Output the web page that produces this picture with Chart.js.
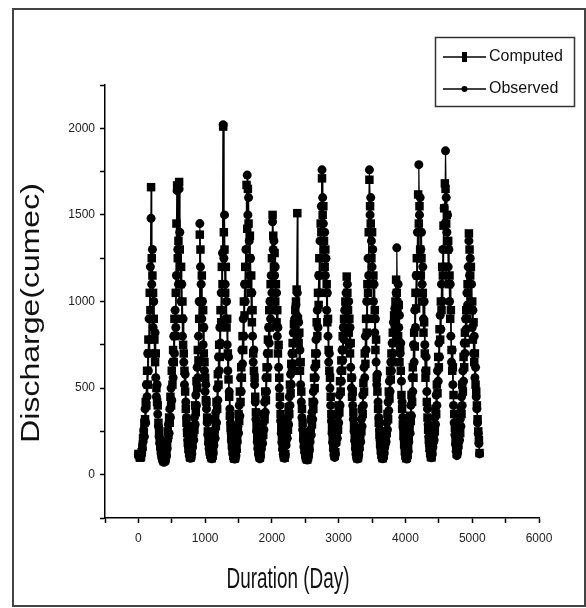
<!DOCTYPE html>
<html>
<head>
<meta charset="utf-8">
<script src="https://cdn.jsdelivr.net/npm/chart.js@4.4.0/dist/chart.umd.min.js"></script>
<style>
  html, body { margin: 0; padding: 0; background: #fff; }
  #wrap { position: relative; width: 586px; height: 608px; }
</style>
</head>
<body>
<div id="wrap"><canvas id="chart"></canvas></div>
<script>
const dayStep = 10;

const computed = [
  120,112,100,98,105,130,160,210,230,300, 320,420,400,600,520,780,700,1050,950,1660,
  1250,1150,1050,900,780,650,700,500,420,400, 300,250,200,165,135,110,95,85,78,80,
  85,95,120,170,250,230,330,300,450,400, 600,520,720,650,900,800,1050,1450,1670,1250,
  1350,1690,1300,1100,1200,900,1000,750,700,600, 480,380,300,240,185,150,125,105,98,108, 135,
  170,210,280,260,400,360,540,500,720,660, 900,1386,1300,1000,1150,850,950,700,650,560,
  430,420,330,250,195,160,132,115,102,95, 110,135,
  180,230,320,280,420,380,580,520,750,680, 950,880,1200,1100,2010,1400,1300,1050,1200,850,
  900,700,550,450,340,270,210,170,135,110, 98,92,100,120,150,
  200,260,350,310,480,420,620,560,800,720, 1000,920,1200,1100,1673,1420,1650,1450,1250,1380,
  1050,1150,880,950,700,600,560,450,360,280, 210,165,130,108,98,118,
  160,190,250,230,350,320,480,430,620,560, 780,700,950,850,1100,1000,1250,1500,1380,1200,
  1280,1000,1100,880,950,700,750,560,450,350, 270,205,160,128,106,98,120,
  180,220,290,260,390,350,520,470,640,600, 760,700,870,820,950,1000,1069,1510,900,760,
  820,600,650,480,380,300,230,180,145,118, 100,90,88,100,120,150,
  200,240,320,290,420,380,560,500,700,640, 880,800,1050,980,1250,1150,1450,1400,1711,1500,
  1550,1350,1200,1300,1050,1100,880,900,720,600, 560,450,350,270,205,160,125,108,130,
  190,220,290,260,400,360,540,480,660,600, 800,720,900,850,1000,950,1144,1050,950,820,
  900,700,760,560,450,480,360,280,215,165, 130,105,95,100,125,
  160,200,270,250,380,350,530,480,700,640, 900,820,1100,1050,1400,1703,1550,1450,1250,1400,
  1100,1150,900,950,720,780,560,480,380,300, 230,180,140,115,100,95,108,135,
  170,190,250,240,350,320,480,440,600,550, 700,650,820,760,920,860,1000,1126,1050,950,
  800,980,650,720,600,460,380,290,225,175, 135,110,95,98,115,150,
  200,250,340,310,460,420,620,560,820,740, 1050,960,1250,1150,1618,1450,1550,1300,1150,1250,
  1000,1050,820,880,700,560,600,420,330,260, 200,155,125,105,100,130,
  170,200,270,250,380,350,520,470,680,620, 840,780,1000,950,1200,1150,1438,1538,1682,1650,
  1450,1500,1300,1350,1100,1150,900,950,720,600, 620,460,350,270,200,150,120,140,
  170,200,260,240,380,350,520,480,680,620, 820,760,950,900,1100,1050,1393,1300,1150,1200,
  950,1000,780,880,650,700,520,480,400,320, 250,200,125
];

const observed = [
  115,110,105,100,110,125,150,190,260,220, 380,300,520,450,700,600,900,780,1200,1480,
  1100,1300,850,1000,700,820,560,450,520,350, 280,220,180,150,125,105,90,80,72,75,
  80,90,110,150,200,290,240,380,330,500, 430,650,560,800,700,950,850,1150,1640,1300,
  1100,1650,1400,1200,1000,1100,800,900,650,520, 580,420,330,260,200,160,130,110,95,100, 120,
  160,230,200,330,290,460,400,620,560,800, 1000,1450,1200,1100,900,1000,750,850,600,480,
  520,380,300,230,180,150,125,110,100,92, 100,125,
  170,250,210,360,300,500,430,680,600,850, 760,1050,950,1280,2020,1250,1500,1100,900,1000,
  750,600,680,480,380,300,240,190,150,120, 100,90,92,110,140,
  190,280,240,400,340,560,480,720,640,900, 800,1100,1000,1300,1200,1730,1500,1600,1350,1150,
  1250,950,1050,800,650,720,520,420,320,250, 190,150,120,100,92,110,
  150,210,180,300,260,420,360,560,480,700, 620,850,760,1000,900,1150,1050,1460,1300,1350,
  1150,1200,950,1050,800,850,620,500,400,310, 240,185,145,118,100,95,115,
  170,240,210,330,290,450,400,580,520,700, 640,820,760,900,850,980,920,1050,800,880,
  650,720,520,420,330,260,200,160,130,110, 95,88,85,95,115,145,
  190,260,230,360,320,480,420,620,560,780, 700,950,850,1150,1050,1350,1250,1550,1760,1600,
  1450,1300,1400,1150,1250,950,1050,800,650,700, 500,400,310,240,185,145,115,100,120,
  180,240,210,340,300,460,400,600,540,720, 660,850,780,950,900,1050,980,1100,900,1000,
  750,850,620,500,560,400,320,250,195,150, 120,100,90,95,115,
  150,220,190,320,280,460,400,620,560,800, 720,1000,900,1250,1150,1760,1500,1600,1350,1200,
  1300,1000,1100,820,900,650,520,580,420,330, 260,200,155,125,105,92,100,125,
  160,210,190,300,260,420,370,540,480,650, 600,760,700,880,820,960,900,1050,1310,1000,
  1100,850,920,700,760,540,420,330,260,200, 155,120,100,90,105,135,
  190,280,240,400,340,560,480,750,650,950, 850,1150,1050,1400,1250,1790,1500,1600,1300,1400,
  1100,1200,900,1000,750,600,680,480,380,290, 220,170,135,110,98,120,
  160,230,200,330,290,460,400,600,540,760, 680,920,840,1100,1000,1300,1200,1540,1450,1870,
  1600,1400,1500,1200,1300,1000,1100,800,650,720, 520,400,300,230,175,135,110,125,
  160,230,200,320,280,450,400,600,540,760, 700,900,840,1050,980,1200,1350,1150,1250,1000,
  1100,850,950,700,800,560,620,450,380,300, 240,180,120
];

const seriesNames = ["Computed", "Observed"];
const xTickLabels = [0, 1000, 2000, 3000, 4000, 5000, 6000];
const yTickLabels = [0, 500, 1000, 1500, 2000];
const xTitle = "Duration (Day)";
const yTitle = "Discharge(cumec)";

const FONT = '"Liberation Sans", Arial, sans-serif';

function toPoints(vals) {
  return vals.map((v, i) => ({ x: i * dayStep, y: v }));
}

// white page with the dark frame round it
const framePlugin = {
  id: "frame",
  beforeDraw(chart) {
    const ctx = chart.ctx;
    ctx.save();
    ctx.fillStyle = "#fff";
    ctx.fillRect(0, 0, chart.width, chart.height);
    ctx.strokeStyle = "#444";
    ctx.lineWidth = 2;
    ctx.strokeRect(13, 9, 572, 597);
    ctx.restore();
  }
};

// axis titles and the boxed legend
const labelsPlugin = {
  id: "labels",
  afterDraw(chart) {
    const ctx = chart.ctx;
    ctx.save();
    ctx.fillStyle = "#111";
    ctx.textAlign = "center";
    ctx.textBaseline = "middle";

    ctx.save();
    ctx.translate(288, 580);
    ctx.scale(0.63, 1);
    ctx.font = "30px " + FONT;
    ctx.fillText(xTitle, 0, 0);
    ctx.restore();

    ctx.save();
    ctx.translate(32, 313);
    ctx.rotate(-Math.PI / 2);
    ctx.scale(1, 0.8);
    ctx.font = "32px " + FONT;
    ctx.fillText(yTitle, 0, 0);
    ctx.restore();

    // legend
    ctx.strokeStyle = "#333";
    ctx.lineWidth = 1.5;
    ctx.strokeRect(435.5, 37.5, 139, 69);
    const rows = [57, 89];
    chart.data.datasets.forEach((ds, i) => {
      const y = rows[i];
      ctx.strokeStyle = "#000";
      ctx.lineWidth = 1.5;
      ctx.beginPath();
      ctx.moveTo(443, y);
      ctx.lineTo(486, y);
      ctx.stroke();
      ctx.fillStyle = "#000";
      if (ds.pointStyle === "rect") {
        ctx.fillRect(462, y - 5, 5, 10);
      } else {
        ctx.beginPath();
        ctx.arc(464.5, y, 3, 0, Math.PI * 2);
        ctx.fill();
      }
      ctx.fillStyle = "#111";
      ctx.textAlign = "left";
      ctx.font = "16px " + FONT;
      ctx.fillText(ds.label, 489, y);
    });
    ctx.restore();
  }
};

const ctx = document.getElementById("chart").getContext("2d");
new Chart(ctx, {
  type: "line",
  data: {
    datasets: [
      {
        label: seriesNames[0],
        data: toPoints(computed),
        borderColor: "#000",
        borderWidth: 1.2,
        backgroundColor: "#000",
        pointStyle: "rect",
        pointRadius: 6,
        pointBorderWidth: 0,
        tension: 0
      },
      {
        label: seriesNames[1],
        data: toPoints(observed),
        borderColor: "#000",
        borderWidth: 1.2,
        backgroundColor: "#000",
        pointStyle: "circle",
        pointRadius: 4.5,
        pointBorderWidth: 0,
        tension: 0
      }
    ]
  },
  options: {
    responsive: true,
    maintainAspectRatio: false,
    animation: false,
    layout: { padding: { top: 85, right: 47, left: 0, bottom: 0 } },
    plugins: {
      legend: { display: false },
      tooltip: { enabled: false }
    },
    scales: {
      x: {
        type: "linear",
        min: -500,
        max: 6000,
        afterFit: (s) => { s.height = 90; },
        ticks: {
          stepSize: 500,
          autoSkip: false,
          maxRotation: 0,
          padding: 8,
          color: "#222",
          font: { family: FONT, size: 12 },
          callback: (v) => (xTickLabels.includes(v) ? String(v) : "")
        },
        grid: {
          drawOnChartArea: false,
          drawTicks: true,
          tickLength: 5,
          tickColor: "#000",
          tickWidth: 1.5
        },
        border: { display: true, color: "#000", width: 1.5 }
      },
      y: {
        min: -250,
        max: 2250,
        afterFit: (s) => { s.width = 105; },
        ticks: {
          stepSize: 250,
          autoSkip: false,
          padding: 5,
          color: "#222",
          font: { family: FONT, size: 12 },
          callback: (v) => (yTickLabels.includes(v) ? String(v) : "")
        },
        grid: {
          drawOnChartArea: false,
          drawTicks: true,
          tickLength: 5,
          tickColor: "#000",
          tickWidth: 1.5
        },
        border: { display: true, color: "#000", width: 1.5 }
      }
    }
  },
  plugins: [framePlugin, labelsPlugin]
});
</script>
</body>
</html>
